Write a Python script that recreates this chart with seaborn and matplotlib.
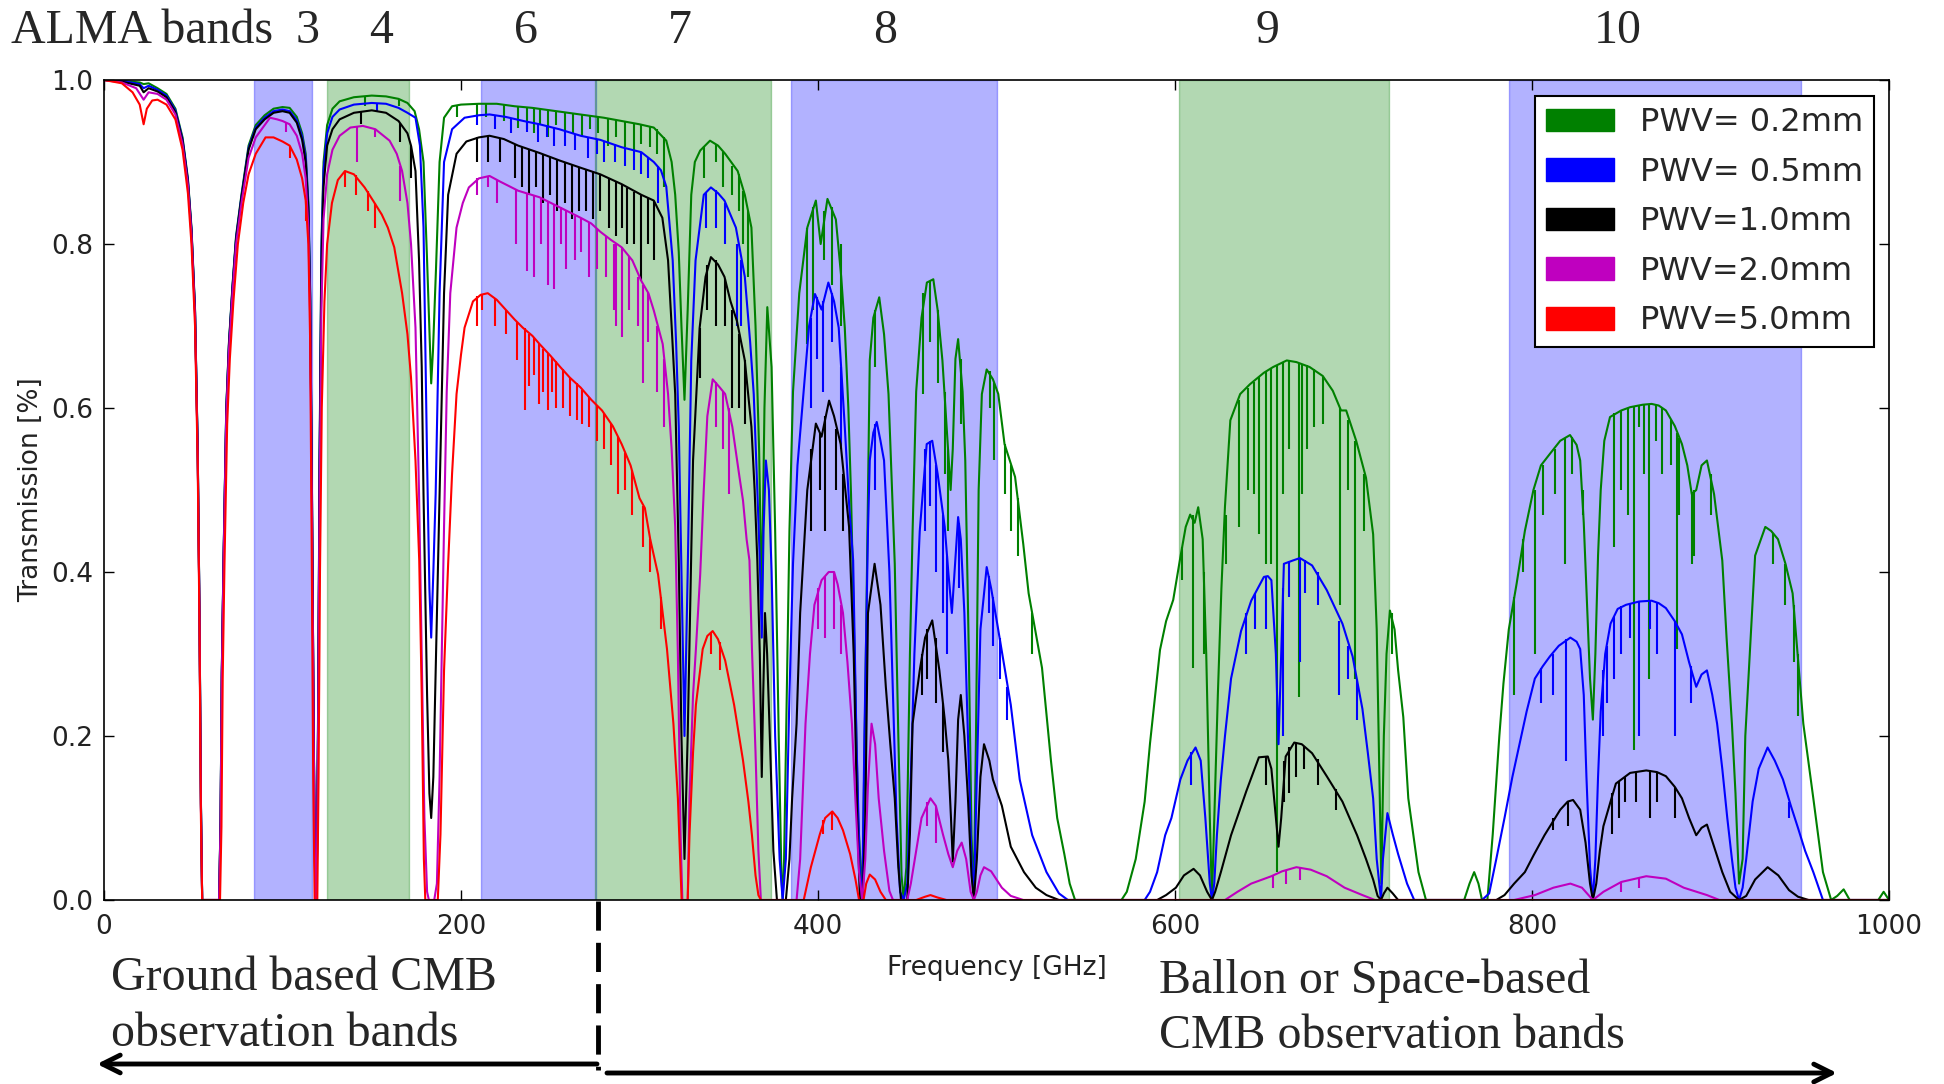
import numpy as np
import matplotlib
matplotlib.use("Agg")
import matplotlib.pyplot as plt
import matplotlib.transforms as mtransforms
from matplotlib.patches import Patch
from matplotlib.lines import Line2D
import seaborn as sns

# ---------------- data ----------------
series_labels = ["PWV= 0.2mm", "PWV= 0.5mm", "PWV=1.0mm", "PWV=2.0mm", "PWV=5.0mm"]

pwv02 = [(0,1.0),(10,0.999),(20,0.997),(22.2,0.995),(25,0.996),(30,0.99),(35,0.983),(40,0.965),(44,0.93),(47,0.88),(49,0.82),(51,0.72),(52.5,0.55),(53.5,0.35),(54.3,0.12),(55,0.0),(64.5,0.0),(65.3,0.1),(66,0.28),(67,0.42),(68.5,0.6),(70,0.68),(72,0.75),(74,0.81),(77,0.86),(81,0.92),(85,0.945),(90,0.957),(95,0.965),(100,0.967),(104,0.966),(108,0.955),(111,0.935),(113,0.91),(114.5,0.85),(115.5,0.74),(116.5,0.5),(117.5,0.2),(118.3,0.02),(118.75,0.0),(119.2,0.02),(120,0.25),(120.8,0.55),(121.8,0.8),(123,0.9),(125,0.945),(128,0.965),(132,0.974),(140,0.979),(150,0.981),(158,0.98),(165,0.977),(170,0.972),(174,0.962),(176.5,0.94),(179,0.9),(181,0.78),(182.5,0.68),(183.3,0.63),(184.3,0.67),(186,0.77),(188,0.9),(190.5,0.954),(195,0.968),(200,0.97),(210,0.971),(220,0.971),(230,0.968),(240,0.966),(250,0.963),(260,0.96),(270,0.957),(280,0.954),(290,0.95),(300,0.946),(308,0.942),(315,0.926),(318,0.9),(320,0.86),(322,0.79),(323.5,0.7),(325.2,0.61),(327,0.72),(329,0.86),(331,0.9),(334,0.914),(339.5,0.926),(344,0.92),(348,0.91),(355,0.889),(359,0.86),(362.7,0.82),(365,0.7),(367,0.55),(368.5,0.36),(370,0.6),(371.6,0.723),(374,0.65),(376,0.45),(378,0.2),(379.5,0.03),(380.2,0.0),(381,0.05),(382.5,0.25),(384,0.45),(386,0.62),(389.5,0.74),(394,0.82),(398.8,0.853),(401.5,0.8),(405.3,0.855),(410,0.83),(413,0.76),(415,0.698),(417,0.6),(418.5,0.495),(420.5,0.3),(422.5,0.1),(424.8,0.0),(426.5,0.25),(429,0.658),(431,0.71),(434.3,0.735),(437,0.69),(439.5,0.617),(441.5,0.5),(443,0.41),(445,0.2),(446.8,0.03),(448,0.0),(449.5,0.04),(451.5,0.3),(453,0.45),(455,0.62),(458,0.71),(461,0.753),(464.6,0.757),(467,0.72),(469.7,0.658),(472,0.58),(474.3,0.5),(475.5,0.55),(477,0.66),(478.5,0.684),(481,0.62),(482.5,0.536),(484.5,0.3),(486,0.08),(487.3,0.0),(488.5,0.2),(490,0.5),(491.8,0.617),(494.5,0.647),(498,0.635),(501,0.617),(504.5,0.556),(510.4,0.516),(515,0.434),(518,0.374),(525.5,0.283),(530.5,0.17),(534,0.1),(538,0.056),(541,0.02),(544,0.0),(570,0.0),(573,0.01),(578,0.05),(583,0.12),(586,0.191),(591.6,0.305),(595,0.34),(599,0.366),(603,0.418),(606,0.455),(608.5,0.47),(611,0.46),(613,0.479),(615.5,0.44),(617.5,0.3),(619.5,0.1),(620.7,0.0),(622,0.1),(624,0.25),(626,0.38),(628,0.48),(631,0.585),(636.5,0.617),(642,0.629),(649.8,0.643),(655,0.65),(662.6,0.658),(668,0.656),(675.4,0.65),(682.8,0.639),(688.4,0.621),(693,0.597),(695.9,0.597),(701.5,0.56),(707,0.515),(711,0.446),(713,0.33),(714.5,0.15),(715.6,0.02),(717,0.2),(718.5,0.3),(720.4,0.353),(723,0.33),(725,0.28),(727.9,0.223),(730.7,0.124),(736.4,0.034),(740.6,0.0),(762,0.0),(765,0.02),(767.6,0.034),(770,0.02),(772,0.0),(775,0.0),(778,0.08),(781.7,0.2),(784,0.264),(787,0.33),(791.4,0.386),(796,0.45),(800.8,0.5),(805,0.53),(810,0.544),(815.8,0.56),(821.3,0.567),(825,0.555),(827,0.536),(829,0.46),(831,0.35),(832.5,0.27),(834.1,0.22),(835.5,0.3),(837,0.42),(838.5,0.5),(840.5,0.56),(843.7,0.589),(850,0.597),(855,0.601),(862,0.604),(867,0.605),(871,0.603),(875,0.597),(880,0.578),(884,0.556),(887,0.53),(889.5,0.495),(892,0.5),(895,0.53),(898,0.536),(902,0.495),(906.6,0.414),(909,0.32),(912,0.215),(914,0.13),(916,0.02),(918,0.05),(919.5,0.2),(921,0.26),(925,0.42),(930.7,0.455),(934,0.45),(937.8,0.44),(942,0.41),(946,0.374),(952,0.215),(957.6,0.124),(963,0.034),(967.6,0.0),(971,0.005),(974.6,0.013),(978,0.0),(994,0.0),(997,0.01),(1000,0.0)]

pwv05 = [(0,1.0),(10,0.999),(20,0.995),(22.2,0.99),(25,0.993),(30,0.988),(35,0.981),(40,0.963),(44,0.928),(47,0.878),(49,0.818),(51,0.718),(52.5,0.548),(53.5,0.348),(54.3,0.118),(55,0.0),(64.5,0.0),(65.3,0.098),(66,0.278),(67,0.418),(68.5,0.598),(70,0.678),(72,0.748),(74,0.808),(77,0.858),(81,0.917),(85,0.942),(90,0.954),(95,0.962),(100,0.964),(104,0.962),(108,0.951),(111,0.931),(113,0.905),(114.5,0.845),(115.5,0.735),(116.5,0.5),(117.5,0.2),(118.3,0.02),(118.75,0.0),(119.2,0.02),(120,0.24),(120.8,0.54),(121.8,0.79),(123,0.89),(125,0.935),(128,0.955),(132,0.964),(140,0.97),(150,0.972),(158,0.971),(165,0.966),(170,0.96),(174.5,0.954),(177,0.92),(179,0.82),(181,0.536),(182.3,0.38),(183.3,0.32),(184.5,0.4),(185.8,0.495),(188,0.74),(190.5,0.90),(195,0.94),(202,0.954),(210,0.957),(216,0.958),(225,0.955),(235,0.95),(244,0.946),(255,0.94),(267,0.932),(278,0.927),(290,0.918),(301,0.912),(308,0.9),(312,0.89),(315,0.87),(318.6,0.78),(320.5,0.68),(322,0.577),(323.5,0.4),(325.2,0.2),(327,0.4),(329,0.658),(331.4,0.78),(336,0.86),(340,0.869),(344,0.862),(347.6,0.853),(354,0.82),(359,0.76),(362,0.68),(364,0.617),(366,0.5),(367.4,0.414),(368.5,0.32),(369.5,0.45),(370.8,0.536),(372.5,0.5),(374,0.4),(376,0.2),(378.5,0.05),(380.2,0.0),(382,0.05),(384,0.25),(386,0.41),(388.5,0.53),(391.8,0.617),(395,0.7),(398.3,0.739),(402,0.72),(405.8,0.753),(409,0.73),(411.6,0.698),(415,0.577),(417.5,0.48),(419.7,0.414),(421.5,0.2),(423.5,0.03),(424.8,0.0),(426,0.2),(428,0.45),(429,0.536),(431,0.57),(432.9,0.583),(435,0.56),(437,0.536),(440,0.4),(442,0.25),(444,0.1),(446,0.01),(448,0.0),(450,0.02),(452,0.15),(454,0.3),(457,0.45),(460.9,0.556),(464,0.56),(467,0.52),(471,0.455),(473,0.4),(475,0.35),(476.5,0.4),(478.5,0.467),(480,0.44),(482,0.35),(484,0.2),(486,0.05),(487.3,0.0),(489,0.15),(491,0.33),(494.5,0.406),(497,0.38),(500.4,0.337),(504,0.29),(508,0.238),(513,0.147),(520,0.079),(528,0.034),(535,0.008),(540,0.0),(583,0.0),(586,0.01),(590,0.034),(594.5,0.079),(598,0.1),(603,0.147),(607,0.17),(611.5,0.186),(614.4,0.17),(617,0.1),(619.5,0.02),(620.7,0.0),(622,0.02),(623.5,0.08),(625.7,0.147),(628,0.2),(631.4,0.27),(637,0.328),(642.7,0.365),(649.8,0.394),(652,0.395),(654,0.39),(656.5,0.3),(658,0.19),(659.5,0.3),(661,0.41),(666,0.414),(670,0.417),(676.8,0.408),(685,0.378),(693.8,0.337),(699.5,0.297),(705,0.233),(708,0.18),(711,0.124),(713,0.05),(715.4,0.0),(716.5,0.05),(719,0.106),(722,0.08),(725,0.056),(730,0.02),(734,0.0),(772,0.0),(776,0.008),(780,0.05),(784.6,0.1),(789,0.15),(793,0.19),(797,0.23),(801.6,0.27),(806,0.285),(810,0.297),(815,0.31),(821.5,0.32),(825,0.315),(827,0.306),(829,0.25),(830.5,0.15),(832.5,0.04),(834.1,0.0),(835.5,0.05),(837,0.15),(838.5,0.23),(841,0.3),(844,0.337),(848,0.355),(852.7,0.36),(860,0.364),(867,0.365),(871,0.362),(875,0.356),(880,0.34),(884,0.324),(888,0.29),(892,0.26),(895,0.275),(898,0.28),(901,0.25),(903.7,0.215),(906.6,0.16),(909.4,0.1),(912,0.05),(914,0.015),(916,0.0),(918,0.015),(920,0.05),(923.6,0.12),(927,0.16),(932,0.186),(936,0.17),(940.6,0.147),(945,0.115),(949,0.088),(953,0.06),(957.6,0.034),(963,0.0),(1000,0.0)]

pwv10 = [(0,1.0),(10,0.998),(20,0.993),(22.2,0.985),(25,0.99),(30,0.986),(35,0.979),(40,0.961),(44,0.926),(47,0.876),(49,0.816),(51,0.716),(52.5,0.546),(53.5,0.346),(54.3,0.116),(55,0.0),(64.5,0.0),(65.3,0.096),(66,0.276),(67,0.416),(68.5,0.596),(70,0.676),(72,0.746),(74,0.806),(77,0.856),(81,0.915),(85,0.94),(90,0.952),(95,0.96),(100,0.962),(104,0.96),(108,0.948),(111,0.927),(113,0.9),(114.5,0.84),(115.5,0.73),(116.5,0.49),(117.5,0.2),(118.3,0.02),(118.75,0.0),(119.2,0.02),(120,0.23),(120.8,0.53),(121.8,0.77),(123,0.87),(125,0.92),(128,0.94),(132,0.952),(140,0.96),(150,0.963),(158,0.96),(165,0.95),(170,0.935),(172,0.92),(174.5,0.889),(176.5,0.78),(178,0.65),(179,0.495),(181,0.25),(182.3,0.13),(183.3,0.10),(184.5,0.15),(186,0.3),(188,0.495),(190.5,0.74),(192.8,0.86),(197.5,0.91),(203,0.925),(210,0.93),(216,0.932),(224,0.928),(232,0.92),(244,0.911),(255,0.902),(267,0.893),(278,0.885),(290,0.873),(301,0.86),(308,0.853),(312.8,0.832),(316,0.78),(318,0.7),(320,0.617),(322,0.414),(323.5,0.2),(325.2,0.05),(327,0.2),(330,0.536),(333.7,0.698),(337,0.76),(340,0.784),(344,0.775),(347.6,0.76),(351,0.73),(354.6,0.706),(359,0.658),(362.7,0.577),(364.5,0.5),(366,0.414),(367.4,0.3),(368.5,0.15),(369.3,0.25),(370.3,0.35),(371.5,0.3),(373,0.2),(375,0.06),(377,0.0),(382,0.0),(384,0.05),(385.5,0.124),(388,0.215),(390,0.35),(394,0.5),(398.8,0.581),(402,0.565),(406.2,0.609),(409,0.59),(412.7,0.556),(417.4,0.455),(420,0.3),(422,0.1),(423.5,0.0),(425,0.0),(426.5,0.1),(428,0.35),(431.7,0.41),(435,0.36),(438,0.26),(440.5,0.19),(443,0.124),(445,0.04),(446.5,0.0),(450,0.0),(451.5,0.08),(453,0.215),(457,0.28),(460,0.32),(464,0.341),(468,0.28),(471,0.22),(473,0.17),(474.5,0.1),(475.5,0.047),(477,0.12),(478.5,0.22),(480,0.25),(482,0.2),(484,0.124),(486,0.03),(487.3,0.0),(489,0.05),(491,0.15),(493,0.19),(496,0.17),(498,0.147),(503,0.115),(508,0.065),(515.4,0.034),(522,0.015),(528,0.006),(535,0.0),(590,0.0),(595,0.006),(600.5,0.015),(605,0.03),(610.4,0.038),(614,0.03),(618,0.01),(620.7,0.0),(622.5,0.01),(625.7,0.034),(631.4,0.079),(640,0.133),(647,0.174),(652,0.175),(654,0.16),(656.5,0.1),(658,0.065),(659.5,0.1),(662,0.175),(666.8,0.192),(671,0.19),(676.8,0.179),(685,0.151),(693.8,0.12),(702,0.079),(707,0.05),(711,0.025),(713.5,0.005),(715.4,0.0),(717,0.008),(719,0.015),(722,0.008),(725,0.0),(780,0.0),(784.6,0.006),(790,0.02),(796,0.034),(801,0.055),(807,0.079),(815.8,0.11),(820,0.12),(823,0.122),(827,0.11),(830,0.07),(832.5,0.02),(834.1,0.0),(836,0.02),(838,0.06),(840,0.09),(844,0.12),(847,0.142),(855,0.155),(864,0.158),(870,0.156),(875,0.151),(880,0.138),(884,0.124),(888,0.1),(892,0.079),(895,0.088),(898,0.092),(902,0.065),(906.6,0.034),(911,0.01),(916,0.0),(920,0.005),(925,0.025),(932,0.04),(938,0.03),(944,0.012),(949,0.004),(955,0.0),(1000,0.0)]

pwv20 = [(0,1.0),(10,0.997),(18,0.99),(22.2,0.976),(25,0.985),(30,0.983),(35,0.976),(40,0.958),(44,0.922),(47,0.872),(49,0.812),(51,0.712),(52.5,0.542),(53.5,0.342),(54.3,0.112),(55,0.0),(64.5,0.0),(65.3,0.09),(66,0.27),(67,0.41),(68.5,0.59),(70,0.67),(72,0.74),(74,0.8),(77,0.85),(81,0.905),(85,0.93),(90,0.945),(93,0.954),(97,0.952),(100,0.95),(104,0.946),(108,0.932),(111,0.91),(113,0.88),(114.5,0.82),(115.5,0.71),(116.5,0.47),(117.5,0.19),(118.3,0.02),(118.75,0.0),(119.2,0.02),(120,0.22),(120.8,0.5),(121.8,0.72),(123,0.83),(125,0.885),(128,0.915),(132,0.932),(138,0.942),(145,0.944),(152,0.94),(160,0.926),(164,0.91),(167,0.889),(170,0.85),(172,0.80),(174.5,0.698),(176.5,0.495),(178,0.3),(179.5,0.1),(181,0.01),(182,0.0),(185,0.0),(186.5,0.02),(188,0.15),(190.5,0.455),(192,0.62),(194,0.74),(197.5,0.82),(201,0.85),(204.4,0.869),(210,0.88),(216,0.883),(222,0.876),(232,0.865),(244,0.857),(255,0.845),(267,0.832),(273,0.825),(278,0.815),(284,0.805),(290,0.796),(296,0.78),(301,0.755),(305,0.74),(308,0.719),(313,0.678),(316,0.617),(318,0.55),(320,0.455),(321.5,0.3),(323,0.08),(324,0.0),(327,0.0),(328,0.124),(330,0.25),(331.6,0.306),(334,0.397),(336,0.5),(338,0.59),(341,0.635),(345,0.625),(348,0.617),(352,0.577),(356,0.516),(358,0.487),(360,0.44),(361.6,0.414),(363,0.306),(365,0.18),(366.6,0.06),(368,0.0),(388,0.0),(390,0.05),(393,0.215),(395.5,0.3),(398,0.36),(402,0.39),(406,0.40),(409,0.40),(411,0.385),(414,0.35),(416.5,0.29),(419,0.215),(421,0.12),(423,0.034),(424.8,0.0),(426.5,0.05),(428,0.14),(430,0.215),(432,0.19),(434,0.124),(437,0.06),(440,0.011),(442,0.0),(450,0.0),(452,0.02),(455,0.06),(458,0.1),(463,0.124),(466,0.115),(470,0.08),(473,0.056),(475.5,0.04),(478,0.06),(480.5,0.07),(483,0.05),(485.5,0.01),(487.3,0.0),(489,0.01),(491,0.03),(493,0.04),(497,0.035),(503,0.015),(508,0.005),(515,0.0),(628,0.0),(635,0.01),(642.7,0.02),(654,0.029),(660,0.035),(668,0.04),(676,0.037),(685,0.029),(695,0.015),(705,0.006),(712,0.0),(790,0.0),(801.6,0.006),(812,0.015),(821.5,0.02),(828,0.015),(834.1,0.0),(840,0.01),(850,0.022),(864,0.029),(875,0.026),(885,0.015),(898,0.006),(905,0.0),(1000,0.0)]

pwv50 = [(0,1.0),(10,0.996),(16,0.985),(20,0.97),(22.2,0.946),(24,0.965),(27,0.975),(30,0.976),(35,0.97),(40,0.952),(44,0.915),(47,0.862),(49,0.8),(51,0.7),(52.5,0.53),(53.5,0.33),(54.3,0.1),(55,0.0),(65,0.0),(65.8,0.09),(66.5,0.27),(67.5,0.41),(69,0.58),(70.5,0.66),(72.5,0.73),(75,0.8),(78,0.85),(81,0.885),(85,0.91),(90.5,0.93),(95,0.93),(100,0.925),(104,0.92),(108,0.903),(111,0.88),(113,0.853),(114.5,0.8),(115.5,0.68),(116.3,0.45),(117.2,0.15),(118,0.0),(119.5,0.0),(120.2,0.15),(121,0.4),(122,0.6),(123.5,0.73),(125,0.8),(127.7,0.85),(131,0.878),(135,0.889),(140,0.885),(146,0.869),(151,0.852),(155.6,0.836),(159,0.82),(162.6,0.796),(167,0.74),(170,0.69),(172,0.637),(174.5,0.536),(176.6,0.414),(178,0.25),(179.2,0.05),(180,0.0),(187,0.0),(188.5,0.08),(190.5,0.28),(192.8,0.41),(195,0.52),(197.5,0.617),(200,0.665),(202,0.698),(206.7,0.73),(211,0.738),(215,0.74),(220,0.732),(225,0.72),(230,0.708),(234.6,0.698),(240,0.688),(244,0.678),(250,0.664),(255.6,0.65),(261,0.637),(267,0.625),(273,0.61),(279,0.597),(285,0.578),(290,0.556),(295,0.53),(300,0.49),(303,0.478),(306,0.44),(310.4,0.397),(315.4,0.306),(319,0.215),(321.5,0.124),(323.6,0.0),(327,0.0),(328,0.079),(330,0.18),(331.6,0.238),(335.4,0.306),(338,0.322),(341,0.328),(344,0.318),(348,0.292),(353,0.238),(358,0.17),(361,0.12),(363,0.079),(365,0.03),(366.6,0.006),(368,0.0),(392,0.0),(394,0.02),(396,0.04),(398,0.056),(401,0.08),(404,0.1),(408,0.108),(411,0.1),(414,0.085),(418,0.056),(421,0.025),(423,0.0),(425.5,0.0),(427,0.02),(429,0.031),(432,0.025),(435,0.01),(438,0.0),(455,0.0),(460,0.004),(463,0.006),(467,0.003),(472,0.0),(1000,0.0)]

# narrow absorption lines: (frequency, transmission beside the line, transmission at the line)
lines02 = [(146,0.98,0.968),(165,0.977,0.968),(197.5,0.968,0.955),(209,0.971,0.957),(214,0.971,0.955),(224,0.97,0.95),(232,0.968,0.942),(237,0.967,0.94),(241,0.966,0.935),(244,0.965,0.946),(249,0.963,0.93),(253,0.962,0.945),(258,0.961,0.938),(263,0.96,0.935),(268,0.958,0.93),(272,0.957,0.94),(277,0.955,0.935),(282.5,0.953,0.92),(287,0.951,0.93),(292,0.949,0.918),(297,0.947,0.915),(301,0.946,0.922),(306,0.943,0.918),(310,0.94,0.91),(314,0.93,0.87),(336,0.92,0.88),(343,0.922,0.9),(347,0.912,0.87),(352,0.895,0.86),(356,0.885,0.84),(358,0.865,0.8),(361,0.84,0.76),(394,0.82,0.678),(397,0.845,0.72),(403.4,0.84,0.78),(408,0.845,0.75),(412.7,0.8,0.7),(432,0.72,0.65),(459,0.74,0.617),(463,0.755,0.68),(467.4,0.72,0.63),(471,0.62,0.52),(473,0.55,0.45),(480,0.66,0.58),(496.5,0.645,0.6),(498.7,0.63,0.536),(504.5,0.556,0.495),(508,0.53,0.45),(512,0.49,0.42),(520,0.35,0.3),(604,0.43,0.39),(610,0.47,0.283),(616,0.4,0.3),(628.6,0.47,0.41),(635.6,0.61,0.455),(641,0.625,0.5),(644,0.632,0.495),(647,0.638,0.446),(651,0.645,0.41),(654,0.648,0.41),(657,0.652,0.034),(660.6,0.656,0.495),(664,0.658,0.55),(669.7,0.655,0.247),(671,0.654,0.495),(674,0.652,0.55),(678,0.647,0.577),(683,0.638,0.58),(692.4,0.6,0.36),(697,0.585,0.5),(701,0.56,0.27),(706,0.52,0.45),(721.5,0.35,0.3),(790,0.37,0.25),(795,0.44,0.4),(801.6,0.5,0.30),(806,0.53,0.47),(813,0.55,0.495),(818.6,0.564,0.41),(822.5,0.565,0.52),(828.5,0.5,0.47),(846,0.594,0.43),(850,0.597,0.5),(854,0.6,0.47),(857,0.602,0.183),(860,0.603,0.577),(863,0.604,0.52),(865.4,0.605,0.27),(869.7,0.604,0.56),(873,0.6,0.52),(878,0.585,0.53),(881,0.57,0.306),(882.5,0.563,0.47),(889.5,0.495,0.41),(891,0.5,0.42),(900,0.52,0.47),(935,0.447,0.41),(942,0.41,0.36),(947,0.36,0.29),(949,0.3,0.224)]
lines05 = [(153,0.972,0.962),(209,0.957,0.945),(219,0.957,0.94),(228,0.954,0.935),(237,0.95,0.936),(243,0.947,0.925),(248,0.945,0.93),(252,0.942,0.92),(258,0.938,0.92),(264,0.934,0.915),(271,0.93,0.905),(276,0.928,0.91),(280,0.926,0.9),(286,0.922,0.9),(292,0.917,0.895),(297,0.914,0.89),(301,0.912,0.885),(305,0.905,0.88),(310.4,0.895,0.85),(337,0.862,0.82),(343,0.866,0.82),(348,0.85,0.8),(354.6,0.8,0.7),(357,0.78,0.7),(396,0.71,0.6),(399.5,0.735,0.66),(403,0.73,0.62),(408,0.74,0.68),(413,0.65,0.55),(432,0.58,0.5),(460,0.55,0.45),(463,0.56,0.48),(466,0.53,0.4),(470,0.47,0.35),(472,0.42,0.3),(479,0.46,0.38),(496,0.395,0.35),(498,0.37,0.31),(502,0.32,0.27),(506,0.26,0.22),(609,0.18,0.14),(640,0.35,0.3),(645,0.375,0.33),(651,0.394,0.33),(660.5,0.38,0.2),(664,0.413,0.37),(670,0.417,0.29),(673,0.415,0.375),(680,0.4,0.36),(692,0.34,0.25),(697,0.31,0.27),(702,0.27,0.22),(805,0.283,0.24),(812,0.3,0.25),(819,0.318,0.17),(840,0.28,0.2),(842,0.31,0.24),(846,0.345,0.27),(850,0.358,0.3),(855,0.362,0.32),(860,0.364,0.2),(866,0.365,0.33),(870,0.363,0.3),(880,0.34,0.2),(889,0.285,0.24),(944,0.12,0.1)]
lines10 = [(144,0.962,0.946),(166,0.948,0.925),(172,0.92,0.88),(209,0.93,0.90),(215,0.932,0.9),(222,0.929,0.9),(230,0.922,0.88),(234,0.918,0.87),(238,0.915,0.86),(242,0.912,0.87),(246,0.91,0.85),(250,0.906,0.86),(254,0.903,0.84),(258,0.9,0.85),(262,0.897,0.83),(266,0.894,0.84),(270,0.891,0.84),(274,0.888,0.83),(278,0.885,0.84),(283,0.88,0.82),(287,0.877,0.81),(290,0.873,0.82),(293,0.868,0.8),(297,0.864,0.8),(301,0.86,0.755),(305,0.856,0.8),(308,0.853,0.78),(333.7,0.698,0.637),(338,0.775,0.72),(343,0.78,0.7),(348,0.757,0.7),(352,0.72,0.6),(356,0.69,0.6),(359,0.658,0.58),(396,0.55,0.45),(401,0.57,0.5),(404,0.59,0.45),(410,0.575,0.5),(414,0.52,0.45),(458,0.3,0.25),(461,0.33,0.27),(466,0.32,0.24),(470,0.24,0.18),(651,0.176,0.14),(661,0.17,0.12),(664,0.187,0.13),(668,0.192,0.15),(672,0.188,0.16),(680,0.172,0.14),(690,0.135,0.11),(812,0.1,0.085),(820,0.12,0.09),(845,0.13,0.08),(849,0.145,0.1),(852,0.15,0.12),(858,0.156,0.12),(866,0.158,0.1),(870,0.156,0.12),(880,0.138,0.1)]
lines20 = [(102,0.948,0.936),(141.7,0.943,0.90),(152,0.94,0.93),(166,0.895,0.853),(209,0.88,0.86),(215,0.883,0.87),(220,0.878,0.85),(231,0.866,0.80),(236.9,0.862,0.767),(241,0.859,0.76),(245,0.856,0.8),(248.6,0.853,0.75),(252,0.848,0.745),(256,0.845,0.8),(259,0.841,0.77),(263.7,0.834,0.78),(267,0.832,0.79),(271.8,0.826,0.76),(276,0.818,0.77),(281,0.81,0.76),(285.8,0.8,0.72),(287,0.8,0.7),(290.4,0.796,0.686),(294,0.785,0.72),(299,0.76,0.7),(302,0.75,0.63),(305,0.74,0.68),(310,0.7,0.62),(314,0.66,0.577),(343,0.632,0.577),(347,0.62,0.55),(350,0.6,0.495),(400,0.38,0.33),(404,0.395,0.32),(409,0.4,0.33),(413,0.36,0.3),(461,0.12,0.09),(466,0.115,0.07),(655,0.03,0.015),(662,0.036,0.02),(670,0.04,0.025),(850,0.022,0.01),(860,0.028,0.015)]
lines50 = [(104,0.92,0.905),(113,0.853,0.828),(135,0.889,0.87),(141,0.884,0.86),(148,0.865,0.84),(152,0.85,0.82),(209,0.736,0.7),(212,0.738,0.72),(219,0.733,0.7),(225,0.72,0.69),(231.2,0.705,0.658),(235.8,0.698,0.597),(238.1,0.69,0.627),(241,0.685,0.64),(243.9,0.678,0.605),(246,0.672,0.62),(248.6,0.667,0.597),(251,0.662,0.62),(253.2,0.657,0.6),(257,0.647,0.6),(261,0.637,0.59),(264.8,0.63,0.585),(268,0.622,0.58),(271.8,0.613,0.577),(276,0.604,0.56),(280,0.594,0.55),(284,0.581,0.53),(288,0.565,0.495),(292,0.545,0.5),(296,0.525,0.47),(302,0.48,0.43),(306,0.44,0.4),(312,0.37,0.33),(340,0.327,0.3),(345,0.315,0.28),(403,0.098,0.08),(408,0.108,0.085)]

# ALMA bands (GHz)
band_names = ["3", "4", "6", "7", "8", "9", "10"]
band_low = [84, 125, 211, 275, 385, 602, 787]
band_high = [116.5, 171, 275.5, 373.5, 500.5, 720, 950.5]

# ---------------- styling ----------------
series_colors = ["#008000", "#0000ff", "#000000", "#bf00bf", "#ff0000"]
band_colors = ["blue", "green", "blue", "green", "blue", "green", "blue"]
band_label_x = [114.3, 155.2, 236.4, 322.7, 437.5, 652, 848]

sns.set_style("ticks")
plt.rcParams["font.family"] = ["DejaVu Sans"]
plt.rcParams["xtick.direction"] = "in"
plt.rcParams["ytick.direction"] = "in"

W, H = 1944, 1084
fig = plt.figure(figsize=(W / 100, H / 100), dpi=100)
ax = fig.add_axes([104 / W, 1 - 900 / H, 1785 / W, 820 / H])

for lo, hi, c in zip(band_low, band_high, band_colors):
    ax.axvspan(lo, hi, color=c, alpha=0.3, lw=1, zorder=0)

all_series = [pwv02, pwv05, pwv10, pwv20, pwv50]
all_lines = [lines02, lines05, lines10, lines20, lines50]
for i, (pts, sp, col) in enumerate(zip(all_series, all_lines, series_colors)):
    f = np.array([p[0] for p in pts])
    t = np.array([p[1] for p in pts])
    sns.lineplot(x=f, y=t, color=col, estimator=None, sort=False, lw=1.5, ax=ax,
                 zorder=2 + i * 0.1)
    sf = np.array([s[0] for s in sp])
    st = np.array([s[1] for s in sp])
    sb = np.array([s[2] for s in sp])
    ax.vlines(sf, sb, st, colors=col, lw=1.5, zorder=2 + i * 0.1)

ax.set_xlim(0, 1000)
ax.set_ylim(0, 1.0)
ax.set_xticks([0, 200, 400, 600, 800, 1000])
ax.set_yticks([0.0, 0.2, 0.4, 0.6, 0.8, 1.0])
ax.set_yticklabels(["0.0", "0.2", "0.4", "0.6", "0.8", "1.0"])
ax.tick_params(axis="both", which="major", labelsize=19, length=7, width=1,
               top=True, right=True, colors="black", labelcolor="#222222")
ax.tick_params(axis="x", pad=10)
ax.tick_params(axis="y", pad=8)
for s in ax.spines.values():
    s.set_visible(True)
    s.set_linewidth(1.2)
    s.set_color("black")
ax.set_xlabel("Frequency [GHz]", fontsize=19, labelpad=11, color="#222222")
ax.set_ylabel("Transmission [%]", fontsize=19, labelpad=5, color="#222222")

handles = [Patch(facecolor=c, edgecolor=c) for c in series_colors]
leg = ax.legend(handles, series_labels, loc="upper right",
                bbox_to_anchor=(0.9916, 0.9805), borderaxespad=0,
                fontsize=23, frameon=True, fancybox=False, framealpha=1,
                edgecolor="black", handlelength=2.13, handleheight=0.72,
                handletextpad=0.8, labelspacing=0.58, borderpad=0.35)
leg.get_frame().set_linewidth(1.5)

serif = ["Liberation Serif", "DejaVu Serif"]
fig.text(11 / W, 1 - 43 / H, "ALMA bands", family=serif, fontsize=34.5,
         va="baseline", ha="left")
trans = mtransforms.blended_transform_factory(ax.transData, fig.transFigure)
for name, x in zip(band_names, band_label_x):
    ax.text(x, 1 - 43 / H, name, transform=trans, family=serif, fontsize=34.5,
            va="baseline", ha="center", clip_on=False)

fig.text(111 / W, 1 - 990 / H, "Ground based CMB", family=serif, fontsize=34.5, va="baseline")
fig.text(111 / W, 1 - 1046 / H, "observation bands", family=serif, fontsize=34.5, va="baseline")
fig.text(1159 / W, 1 - 993 / H, "Ballon or Space-based", family=serif, fontsize=34.5, va="baseline")
fig.text(1159 / W, 1 - 1048 / H, "CMB observation bands", family=serif, fontsize=34.5, va="baseline")

fig.add_artist(Line2D([597.5 / W, 597.5 / W], [1 - 901 / H, 1 - 1070 / H],
                      transform=fig.transFigure, color="black", lw=3.5,
                      linestyle=(0, (6, 2.5))))
ax.annotate("", xy=(97, H - 1064), xytext=(597, H - 1064), xycoords="figure pixels",
            textcoords="figure pixels",
            arrowprops=dict(arrowstyle="->", lw=3.5, color="black",
                            mutation_scale=32, shrinkA=0, shrinkB=0))
ax.annotate("", xy=(1837, H - 1073), xytext=(607, H - 1073), xycoords="figure pixels",
            textcoords="figure pixels",
            arrowprops=dict(arrowstyle="->", lw=3.5, color="black",
                            mutation_scale=32, shrinkA=0, shrinkB=0))

fig.savefig("out.png", dpi=100, facecolor="white")
